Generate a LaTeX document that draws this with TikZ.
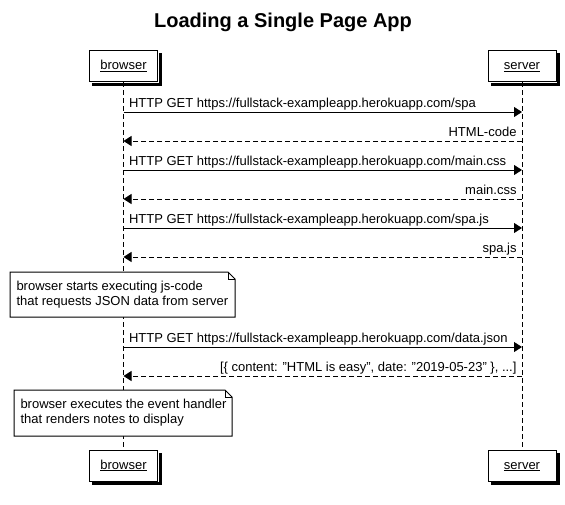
\documentclass[tikz,border=0pt]{standalone}
\usepackage{fontspec}
\setmainfont{Liberation Sans}
\usetikzlibrary{arrows.meta}

\begin{document}
\begin{tikzpicture}[x=1pt,y=-1pt,line width=1pt,
  every node/.style={font=\fontsize{13}{15}\selectfont},
  actor/.style={draw,fill=white,minimum width=68pt,minimum height=31pt,inner sep=0pt,text height=9.5pt,text depth=2.5pt},
  lifeline/.style={dash pattern=on 5pt off 3pt},
  call/.style={-{Triangle[length=8pt,width=10pt]}},
  reply/.style={-{Triangle[length=8pt,width=10pt]},dash pattern=on 5pt off 3pt},
  calllbl/.style={anchor=base west,inner sep=0pt,xshift=5pt,yshift=5pt},
  replylbl/.style={anchor=base east,inner sep=0pt,xshift=-5pt,yshift=5pt},
  note/.style={align=left,anchor=west,inner sep=0pt}]

\useasboundingbox (0,0) rectangle (565,504);

\node[font=\fontsize{20}{22}\selectfont\bfseries] (title) at (283,22.5) {Loading a Single Page App};

\node[actor] (browser) at (123.5,66) {\underline{browser}};
\node[actor] (server) at (522,66) {\underline{server}};
\node[actor] (browserEnd) at (123.5,465.5) {\underline{browser}};
\node[actor] (serverEnd) at (522,465.5) {\underline{server}};

\foreach \who in {browser,server,browserEnd,serverEnd} {
  \fill[black] ([shift={(0.5,3)}]\who.north east) rectangle ([shift={(3.5,3.5)}]\who.south east);
  \fill[black] ([shift={(3,0.5)}]\who.south west) rectangle ([shift={(3.5,3.5)}]\who.south east);
}

\draw[lifeline] (browser) -- (browserEnd);
\draw[lifeline] (server) -- (serverEnd);

\coordinate (b1) at (123.5,112);
\coordinate (s1) at (522,112);
\coordinate (b2) at (123.5,141);
\coordinate (s2) at (522,141);
\coordinate (b3) at (123.5,170);
\coordinate (s3) at (522,170);
\coordinate (b4) at (123.5,199);
\coordinate (s4) at (522,199);
\coordinate (b5) at (123.5,228);
\coordinate (s5) at (522,228);
\coordinate (b6) at (123.5,257);
\coordinate (s6) at (522,257);
\coordinate (b7) at (123.5,347);
\coordinate (s7) at (522,347);
\coordinate (b8) at (123.5,376);
\coordinate (s8) at (522,376);

\draw[call] (b1) -- (s1) node[calllbl,pos=0] (get1) {HTTP GET https://fullstack-exampleapp.herokuapp.com/spa};
\draw[reply] (s2) -- (b2) node[replylbl,pos=0] (html) {HTML-code};
\draw[call] (b3) -- (s3) node[calllbl,pos=0] (get2) {HTTP GET https://fullstack-exampleapp.herokuapp.com/main.css};
\draw[reply] (s4) -- (b4) node[replylbl,pos=0] (css) {main.css};
\draw[call] (b5) -- (s5) node[calllbl,pos=0] (get3) {HTTP GET https://fullstack-exampleapp.herokuapp.com/spa.js};
\draw[reply] (s6) -- (b6) node[replylbl,pos=0] (js) {spa.js};
\draw[call] (b7) -- (s7) node[calllbl,pos=0] (get4) {HTTP GET https://fullstack-exampleapp.herokuapp.com/data.json};
\draw[reply] (s8) -- (b8) node[replylbl,pos=0] (json) {[\{ content: "HTML is easy", date: "2019-05-23" \}, ...]};

\coordinate (noteA) at (10,272);
\coordinate (noteAend) at (235,317);
\filldraw[fill=white] (noteA) -- ([xshift=-7pt]noteA -| noteAend) -- ([yshift=-7pt]noteA -| noteAend)
  -- (noteAend) -- (noteA |- noteAend) -- cycle;
\draw ([xshift=-7pt]noteA -| noteAend) -- ([xshift=-7pt,yshift=-7pt]noteA -| noteAend) -- ([yshift=-7pt]noteA -| noteAend);
\node[note] (jsnote) at (16,294.5) {browser starts executing js-code\\that requests JSON data from server};

\coordinate (noteB) at (14,390);
\coordinate (noteBend) at (232,436);
\filldraw[fill=white] (noteB) -- ([xshift=-7pt]noteB -| noteBend) -- ([yshift=-7pt]noteB -| noteBend)
  -- (noteBend) -- (noteB |- noteBend) -- cycle;
\draw ([xshift=-7pt]noteB -| noteBend) -- ([xshift=-7pt,yshift=-7pt]noteB -| noteBend) -- ([yshift=-7pt]noteB -| noteBend);
\node[note] (handlernote) at (20,413) {browser executes the event handler\\that renders notes to display};

\end{tikzpicture}
\end{document}
